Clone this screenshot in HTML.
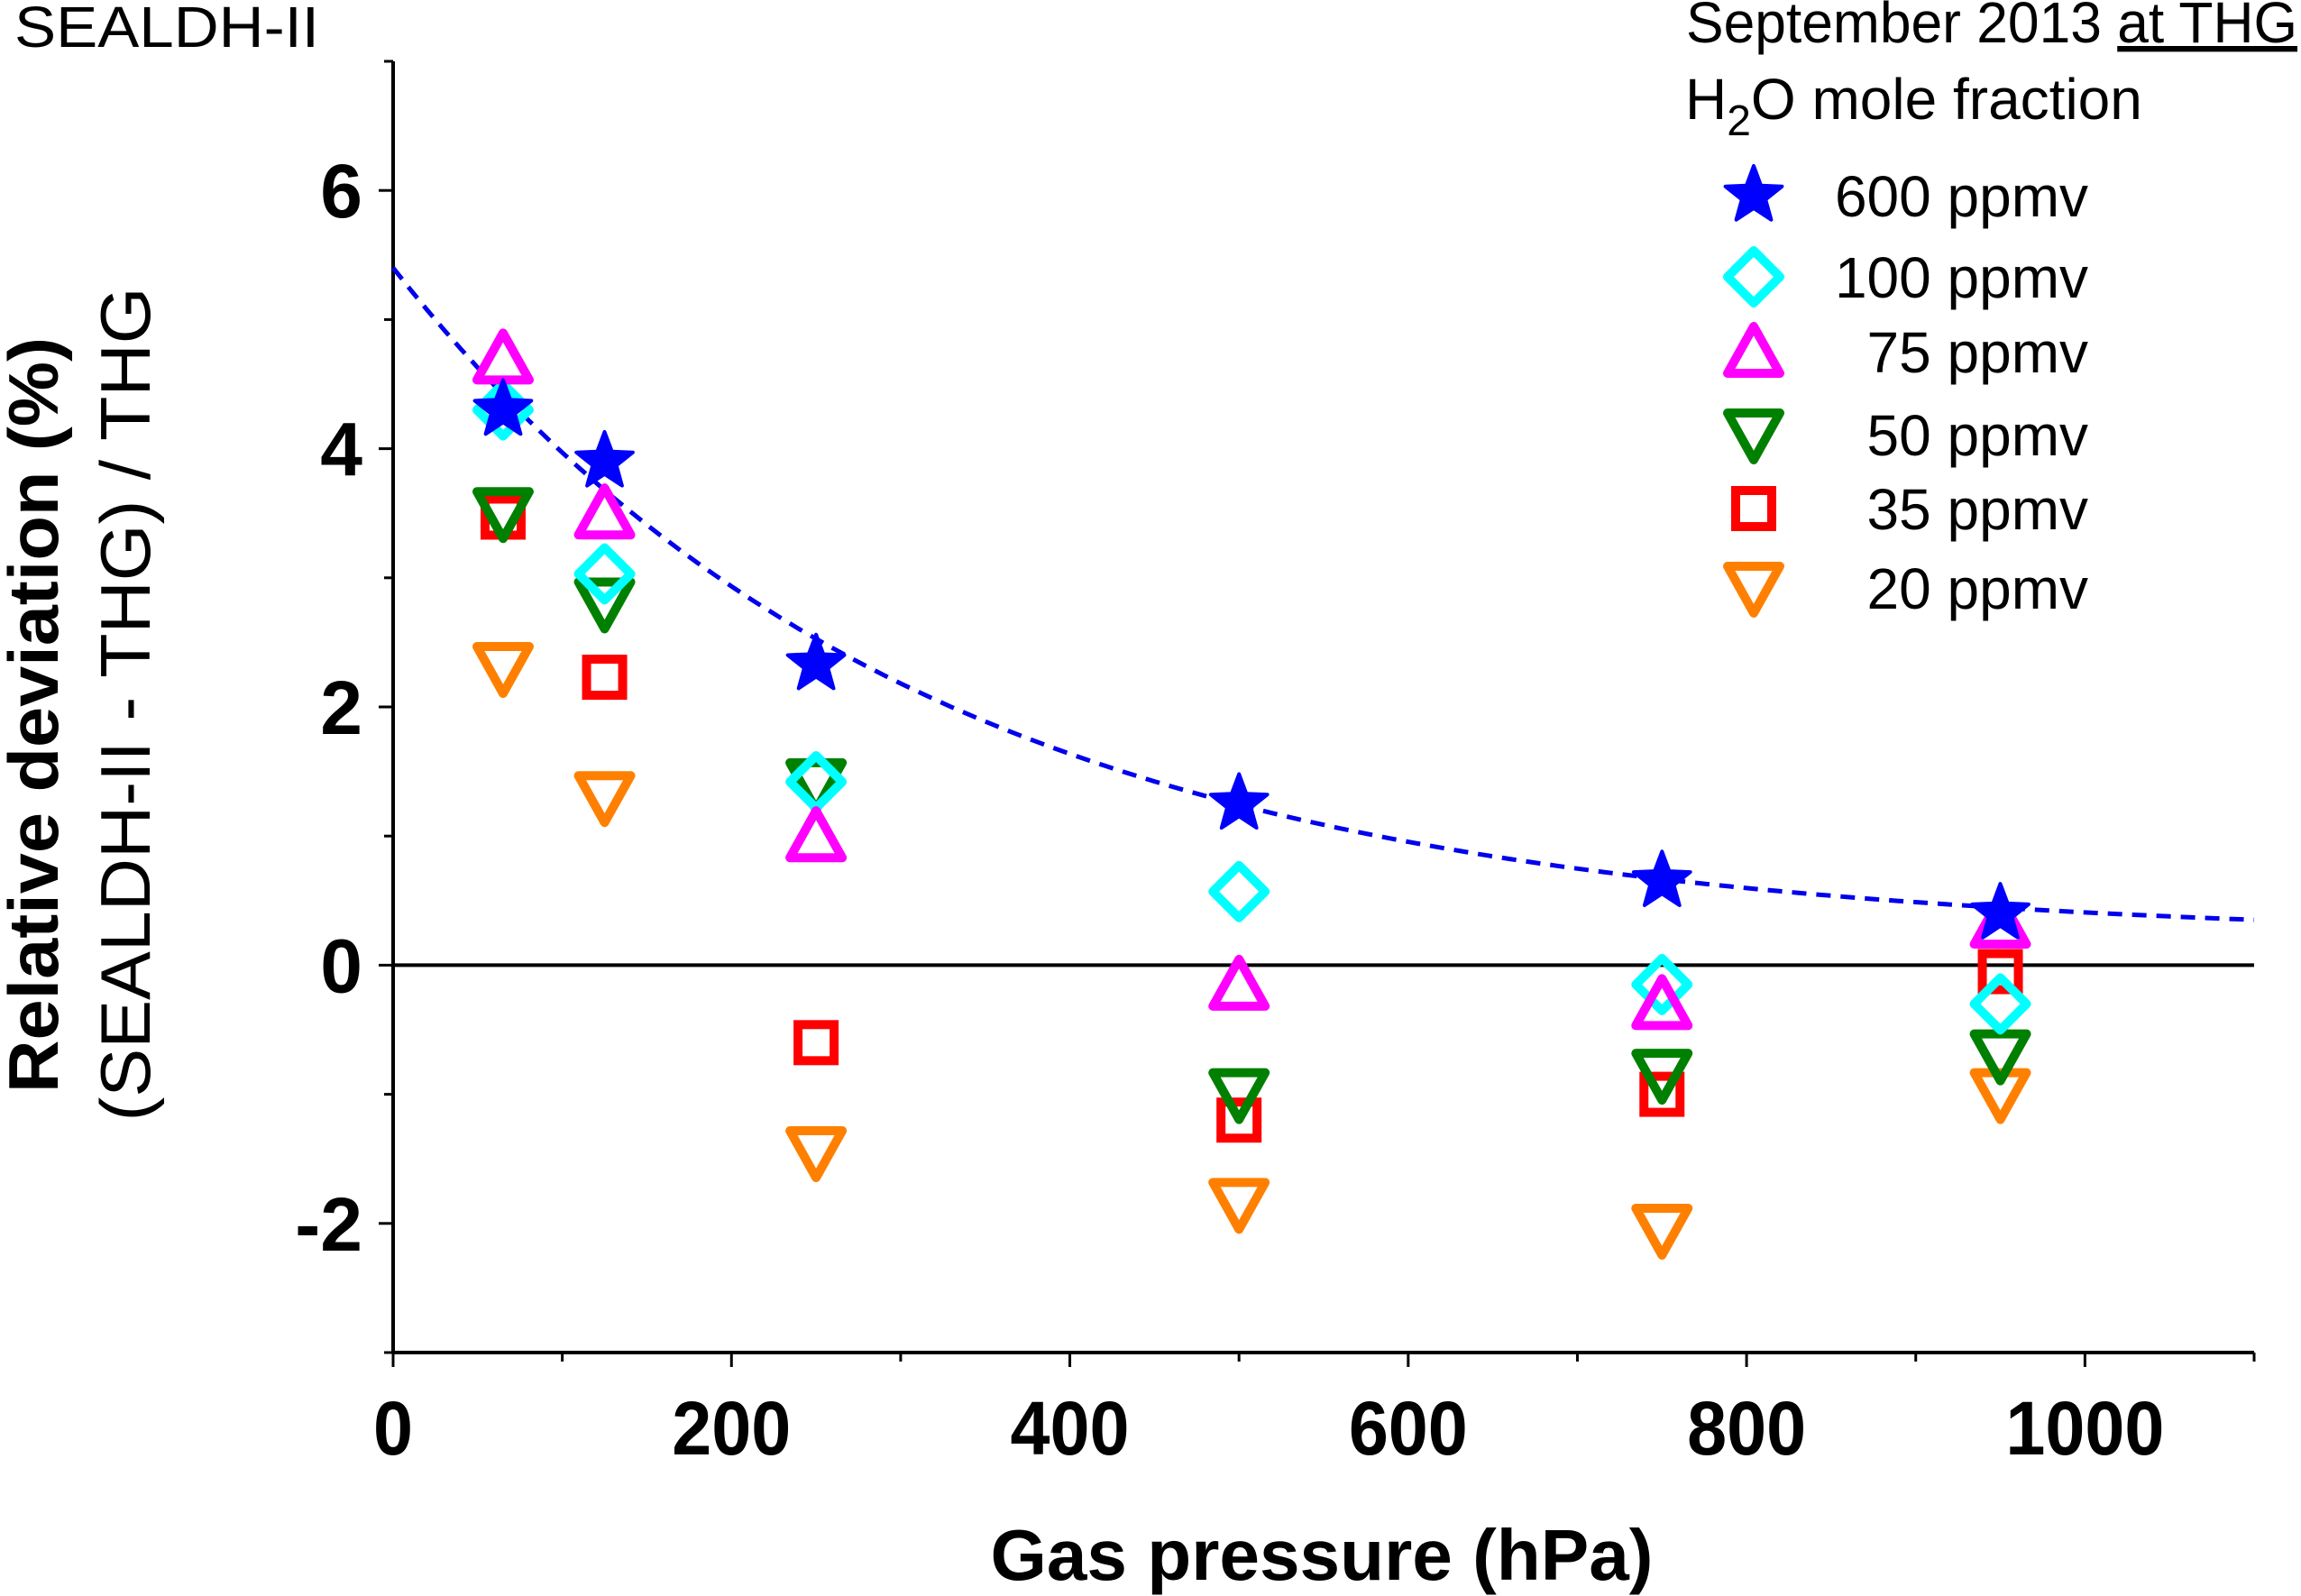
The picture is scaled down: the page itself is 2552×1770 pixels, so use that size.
<!DOCTYPE html>
<html><head><meta charset="utf-8"><style>
html,body{margin:0;padding:0;background:#fff}
svg{display:block;font-family:"Liberation Sans",sans-serif}
</style></head><body>
<svg id="chart" width="2552" height="1770" viewBox="0 0 2552 1770">
<text x="16" y="52" font-size="64" textLength="338" lengthAdjust="spacingAndGlyphs">SEALDH-II</text>
<text x="2548" y="47" font-size="64" text-anchor="end" textLength="678" lengthAdjust="spacingAndGlyphs">September 2013 <tspan text-decoration="underline">at THG</tspan></text>
<text x="1869" y="132" font-size="64">H<tspan font-size="48" dy="18">2</tspan><tspan dy="-18">O mole fraction</tspan></text>
<g id="axes"></g>
<g id="fit"></g>
<g id="marks"></g>
<g id="legend"></g>
<text x="1466" y="1752" font-size="80" font-weight="bold" text-anchor="middle" textLength="735" lengthAdjust="spacingAndGlyphs">Gas pressure (hPa)</text>
<g transform="translate(64,793) rotate(-90)"><text x="0" y="0" font-size="78" font-weight="bold" text-anchor="middle" textLength="838" lengthAdjust="spacingAndGlyphs">Relative deviation (%)</text></g>
<g transform="translate(166,781) rotate(-90)"><text x="0" y="0" font-size="78" text-anchor="middle" textLength="925" lengthAdjust="spacingAndGlyphs">(SEALDH-II - THG) / THG</text></g>
</svg>
<script>
const pressures=[65,125,250,500,750,950];
const s600=[4.3,3.9,2.33,1.25,0.65,0.4];
const s100=[4.3,3.03,1.42,0.57,-0.15,-0.3];
const s75=[4.7,3.5,1.0,-0.15,-0.3,0.33];
const s50=[3.5,2.8,1.4,-1.0,-0.85,-0.7];
const s35=[3.47,2.23,-0.6,-1.2,-1.0,-0.05];
const s20=[2.3,1.3,-1.45,-1.85,-2.05,-1.0];
const seriesLabels=["600 ppmv","100 ppmv","75 ppmv","50 ppmv","35 ppmv","20 ppmv"];
const xTicks=[0,200,400,600,800,1000];
const yTicks=[-2,0,2,4,6];
const fitParams=[0.2,5.2,311];

const NS="http://www.w3.org/2000/svg";
const X0=436,X1=2500,XMAX=1100,Y0=1500,Y1=68,YMIN=-3,YMAX=7;
const sx=v=>X0+(v/XMAX)*(X1-X0);
const sy=v=>Y0-(v-YMIN)/(YMAX-YMIN)*(Y0-Y1);
function mk(tag,attrs,parent){const e=document.createElementNS(NS,tag);for(const k in attrs)e.setAttribute(k,attrs[k]);parent.appendChild(e);return e;}
const axes=document.getElementById('axes');
let e;
e=mk('line',{x1:X0,y1:Y1,x2:X0,y2:Y0,stroke:'#000','stroke-width':4},axes);


e=mk('line',{x1:X0,y1:Y0,x2:X1,y2:Y0,stroke:'#000','stroke-width':4},axes);


e=mk('line',{x1:X0,y1:sy(0),x2:X1,y2:sy(0),stroke:'#000','stroke-width':4},axes);


for(let v=0;v<=XMAX;v+=100){const major=v%200===0;mk('line',{x1:sx(v),y1:Y0,x2:sx(v),y2:Y0+(major?16:10),stroke:'#000','stroke-width':3},axes);}
for(let v=YMIN;v<=YMAX;v+=1){const major=v%2===0;mk('line',{x1:X0,y1:sy(v),x2:X0-(major?16:10),y2:sy(v),stroke:'#000','stroke-width':3},axes);}
xTicks.forEach(v=>{const t=mk('text',{x:sx(v),y:Y0+113,'font-size':84,'font-weight':'bold','text-anchor':'middle'},axes);t.textContent=v;
t.setAttribute('textLength',String(v).length*44);
t.setAttribute('lengthAdjust','spacingAndGlyphs');

});
yTicks.forEach(v=>{const t=mk('text',{x:X0-34,y:sy(v)+30,'font-size':84,'font-weight':'bold','text-anchor':'end'},axes);t.textContent=v;

});
let d='';for(let p=0;p<=XMAX;p+=10){const v=fitParams[0]+fitParams[1]*Math.exp(-p/fitParams[2]);d+=(p?'L':'M')+sx(p).toFixed(1)+' '+sy(v).toFixed(1);}
e=mk('path',{d:d,fill:'none',stroke:'#0000ee','stroke-width':5,'stroke-dasharray':'16 11'},document.getElementById('fit'));


function star(cx,cy,r){let p='';for(let i=0;i<10;i++){const rr=i%2?r*0.42:r;const a=-Math.PI/2+i*Math.PI/5;p+=(i?'L':'M')+(cx+rr*Math.cos(a)).toFixed(1)+' '+(cy+rr*Math.sin(a)).toFixed(1);}return p+'Z';}
function drawMarker(type,cx,cy,parent){
 if(type==='star')return mk('path',{d:star(cx,cy,33),fill:'#0000ff',stroke:'#0000ff','stroke-width':4,'stroke-linejoin':'round'},parent);
 if(type==='diamond')return mk('path',{d:`M${cx} ${cy-29}L${cx+29} ${cy}L${cx} ${cy+29}L${cx-29} ${cy}Z`,fill:'none',stroke:'#00ffff','stroke-width':10,'stroke-linejoin':'round'},parent);
 if(type==='up')return mk('path',{d:`M${cx} ${cy-28}L${cx+29} ${cy+24}L${cx-29} ${cy+24}Z`,fill:'none',stroke:'#ff00ff','stroke-width':10,'stroke-linejoin':'round'},parent);
 if(type==='down-g')return mk('path',{d:`M${cx} ${cy+28}L${cx+29} ${cy-24}L${cx-29} ${cy-24}Z`,fill:'none',stroke:'#008000','stroke-width':10,'stroke-linejoin':'round'},parent);
 if(type==='square')return mk('rect',{x:cx-20,y:cy-20,width:40,height:40,fill:'none',stroke:'#ff0000','stroke-width':10},parent);
 return mk('path',{d:`M${cx} ${cy+28}L${cx+29} ${cy-24}L${cx-29} ${cy-24}Z`,fill:'none',stroke:'#ff8000','stroke-width':10,'stroke-linejoin':'round'},parent);
}
const series=[[s20,'down-o'],[s35,'square'],[s50,'down-g'],[s100,'diamond'],[s75,'up'],[s600,'star']];
const marks=document.getElementById('marks');
series.forEach(([vals,type])=>{vals.forEach((v,i)=>{const m=drawMarker(type,sx(pressures[i]),sy(v),marks);

});});
const legTypes=['star','diamond','up','down-g','square','down-o'];
const legY=[217,307,390,482,564,652];
const leg=document.getElementById('legend');
legTypes.forEach((t,i)=>{const m=drawMarker(t,1945,legY[i],leg);


const tx=mk('text',{x:2316,y:legY[i]+23,'font-size':64,'text-anchor':'end'},leg);tx.textContent=seriesLabels[i];

});
</script>
</body></html>
